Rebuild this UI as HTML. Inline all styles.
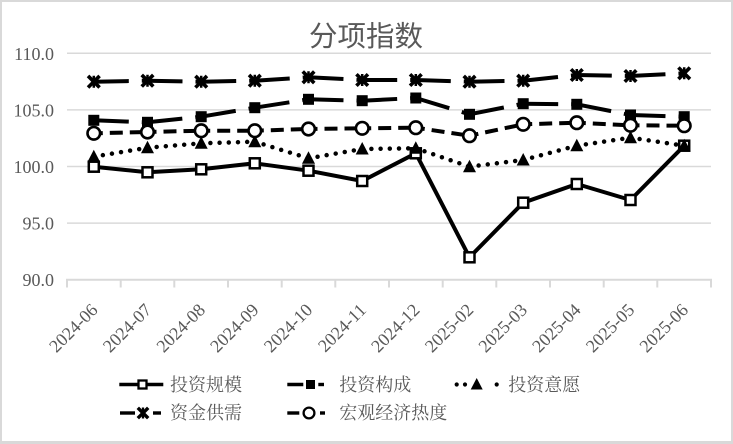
<!DOCTYPE html>
<html>
<head>
<meta charset="utf-8">
<style>
html,body{margin:0;padding:0;background:#fff;}
svg{display:block;}
.ax{font-family:"Liberation Serif",serif;font-size:18px;fill:#595959;}
.lg{font-family:"Liberation Serif","Noto Serif CJK SC",serif;font-size:18px;fill:#595959;}
.tt{font-family:"Liberation Sans","Noto Sans CJK SC",sans-serif;font-size:28.5px;fill:#595959;}
</style>
</head>
<body>
<svg width="733" height="444" viewBox="0 0 733 444" xmlns="http://www.w3.org/2000/svg">
<rect width="733" height="444" fill="#d9d9d9"/>
<rect x="2" y="2" width="729" height="439" fill="#ffffff"/>

<text class="tt" x="366" y="46" text-anchor="middle">分项指数</text>

<!-- gridlines -->
<g stroke="#d9d9d9" stroke-width="1.5">
<line x1="67" y1="53.3" x2="711" y2="53.3"/>
<line x1="67" y1="109.9" x2="711" y2="109.9"/>
<line x1="67" y1="166.5" x2="711" y2="166.5"/>
<line x1="67" y1="223.1" x2="711" y2="223.1"/>
</g>
<g stroke="#d9d9d9" stroke-width="2">
<line x1="66" y1="279.7" x2="712" y2="279.7"/>
<line x1="67" y1="279.7" x2="67" y2="287.5"/>
<line x1="120.7" y1="279.7" x2="120.7" y2="287.5"/>
<line x1="174.3" y1="279.7" x2="174.3" y2="287.5"/>
<line x1="228" y1="279.7" x2="228" y2="287.5"/>
<line x1="281.7" y1="279.7" x2="281.7" y2="287.5"/>
<line x1="335.3" y1="279.7" x2="335.3" y2="287.5"/>
<line x1="389" y1="279.7" x2="389" y2="287.5"/>
<line x1="442.7" y1="279.7" x2="442.7" y2="287.5"/>
<line x1="496.3" y1="279.7" x2="496.3" y2="287.5"/>
<line x1="550" y1="279.7" x2="550" y2="287.5"/>
<line x1="603.7" y1="279.7" x2="603.7" y2="287.5"/>
<line x1="657.3" y1="279.7" x2="657.3" y2="287.5"/>
<line x1="711" y1="279.7" x2="711" y2="287.5"/>
</g>

<!-- y labels -->
<g class="ax" text-anchor="end">
<text x="54" y="60">110.0</text>
<text x="54" y="116.5">105.0</text>
<text x="54" y="173">100.0</text>
<text x="54" y="229.6">95.0</text>
<text x="54" y="286.2">90.0</text>
</g>

<!-- x labels -->
<g class="ax" text-anchor="end">
<text transform="translate(98.8,311) rotate(-45)">2024-06</text>
<text transform="translate(152.5,311) rotate(-45)">2024-07</text>
<text transform="translate(206.2,311) rotate(-45)">2024-08</text>
<text transform="translate(259.8,311) rotate(-45)">2024-09</text>
<text transform="translate(313.5,311) rotate(-45)">2024-10</text>
<text transform="translate(367.2,311) rotate(-45)">2024-11</text>
<text transform="translate(420.8,311) rotate(-45)">2024-12</text>
<text transform="translate(474.5,311) rotate(-45)">2025-02</text>
<text transform="translate(528.2,311) rotate(-45)">2025-03</text>
<text transform="translate(581.8,311) rotate(-45)">2025-04</text>
<text transform="translate(635.5,311) rotate(-45)">2025-05</text>
<text transform="translate(689.2,311) rotate(-45)">2025-06</text>
</g>

<!-- Series 1: 投资规模 -->
<polyline fill="none" stroke="#000" stroke-width="4" stroke-linejoin="round"
 points="93.8,166.7 147.5,172.3 201.2,169.3 254.8,163.3 308.5,170.7 362.2,181 415.8,153.3 469.5,257.3 523.2,202.7 576.8,184 630.5,200 684.2,145.7"/>
<g fill="#fff" stroke="#000" stroke-width="2.5">
<rect x="88.8" y="161.7" width="10" height="10"/>
<rect x="142.5" y="167.3" width="10" height="10"/>
<rect x="196.2" y="164.3" width="10" height="10"/>
<rect x="249.8" y="158.3" width="10" height="10"/>
<rect x="303.5" y="165.7" width="10" height="10"/>
<rect x="357.2" y="176" width="10" height="10"/>
<rect x="410.8" y="148.3" width="10" height="10"/>
<rect x="464.5" y="252.3" width="10" height="10"/>
<rect x="518.2" y="197.7" width="10" height="10"/>
<rect x="571.8" y="179" width="10" height="10"/>
<rect x="625.5" y="195" width="10" height="10"/>
<rect x="679.2" y="140.7" width="10" height="10"/>
</g>

<!-- Series 2: 投资构成 -->
<path fill="none" stroke="#000" stroke-width="4" stroke-dasharray="35 13"
 d="M93.8 120.3L147.5 122.3M147.5 122.3L201.2 116.7M201.2 116.7L254.8 107.7M254.8 107.7L308.5 99.3M308.5 99.3L362.2 100.7M362.2 100.7L415.8 98M415.8 98L469.5 114.3M469.5 114.3L523.2 103.7M523.2 103.7L576.8 104.3M576.8 104.3L630.5 115M630.5 115L684.2 116.7"/>
<g fill="#000">
<rect x="88.3" y="114.8" width="11" height="11"/>
<rect x="142" y="116.8" width="11" height="11"/>
<rect x="195.7" y="111.2" width="11" height="11"/>
<rect x="249.3" y="102.2" width="11" height="11"/>
<rect x="303" y="93.8" width="11" height="11"/>
<rect x="356.7" y="95.2" width="11" height="11"/>
<rect x="410.3" y="92.5" width="11" height="11"/>
<rect x="464" y="108.8" width="11" height="11"/>
<rect x="517.7" y="98.2" width="11" height="11"/>
<rect x="571.3" y="98.8" width="11" height="11"/>
<rect x="625" y="109.5" width="11" height="11"/>
<rect x="678.7" y="111.2" width="11" height="11"/>
</g>

<!-- Series 3: 投资意愿 -->
<path fill="none" stroke="#000" stroke-width="4.5" stroke-linecap="round" stroke-dasharray="0 9.2"
 d="M93.8 156.7L147.5 147.7M147.5 147.7L201.2 143.3M201.2 143.3L254.8 141.7M254.8 141.7L308.5 158.3M308.5 158.3L362.2 149M362.2 149L415.8 148.3M415.8 148.3L469.5 166.7M469.5 166.7L523.2 160M523.2 160L576.8 145.7M576.8 145.7L630.5 137.7M630.5 137.7L684.2 145.7"/>
<g fill="#000">
<polygon points="93.8,149.7 100.3,162.2 87.3,162.2"/>
<polygon points="147.5,140.7 154,153.2 141,153.2"/>
<polygon points="201.2,136.3 207.7,148.8 194.7,148.8"/>
<polygon points="254.8,134.7 261.3,147.2 248.3,147.2"/>
<polygon points="308.5,151.3 315,163.8 302,163.8"/>
<polygon points="362.2,142 368.7,154.5 355.7,154.5"/>
<polygon points="415.8,141.3 422.3,153.8 409.3,153.8"/>
<polygon points="469.5,159.7 476,172.2 463,172.2"/>
<polygon points="523.2,153 529.7,165.5 516.7,165.5"/>
<polygon points="576.8,138.7 583.3,151.2 570.3,151.2"/>
<polygon points="630.5,130.7 637,143.2 624,143.2"/>
<polygon points="684.2,138.7 690.7,151.2 677.7,151.2"/>
</g>

<!-- Series 4: 资金供需 -->
<path fill="none" stroke="#000" stroke-width="4" stroke-dasharray="35 13"
 d="M93.8 81.7L147.5 80.7M147.5 80.7L201.2 81.7M201.2 81.7L254.8 80.7M254.8 80.7L308.5 77.3M308.5 77.3L362.2 80M362.2 80L415.8 80M415.8 80L469.5 81.7M469.5 81.7L523.2 80.7M523.2 80.7L576.8 75M576.8 75L630.5 76M630.5 76L684.2 73.3"/>
<g stroke="#000" stroke-width="3.6" stroke-linecap="square">
<path d="M89.3 77.2L98.3 86.2M98.3 77.2L89.3 86.2"/>
<path d="M143 76.2L152 85.2M152 76.2L143 85.2"/>
<path d="M196.7 77.2L205.7 86.2M205.7 77.2L196.7 86.2"/>
<path d="M250.3 76.2L259.3 85.2M259.3 76.2L250.3 85.2"/>
<path d="M304 72.8L313 81.8M313 72.8L304 81.8"/>
<path d="M357.7 75.5L366.7 84.5M366.7 75.5L357.7 84.5"/>
<path d="M411.3 75.5L420.3 84.5M420.3 75.5L411.3 84.5"/>
<path d="M465 77.2L474 86.2M474 77.2L465 86.2"/>
<path d="M518.7 76.2L527.7 85.2M527.7 76.2L518.7 85.2"/>
<path d="M572.3 70.5L581.3 79.5M581.3 70.5L572.3 79.5"/>
<path d="M626 71.5L635 80.5M635 71.5L626 80.5"/>
<path d="M679.7 68.8L688.7 77.8M688.7 68.8L679.7 77.8"/>
</g>
<g stroke="#000" stroke-width="2.5">
<path d="M93.8 75.7V87.7M147.5 74.7V86.7M201.2 75.7V87.7M254.8 74.7V86.7M308.5 71.3V83.3M362.2 74V86M415.8 74V86M469.5 75.7V87.7M523.2 74.7V86.7M576.8 69V81M630.5 70V82M684.2 67.3V79.3"/>
</g>

<!-- Series 5: 宏观经济热度 -->
<path fill="none" stroke="#000" stroke-width="4" stroke-dasharray="13 7" stroke-dashoffset="4"
 d="M93.8 133.3L147.5 132M147.5 132L201.2 130.7M201.2 130.7L254.8 130.7M254.8 130.7L308.5 129M308.5 129L362.2 128.3M362.2 128.3L415.8 127.7M415.8 127.7L469.5 135.7M469.5 135.7L523.2 124.3M523.2 124.3L576.8 122.7M576.8 122.7L630.5 125.3M630.5 125.3L684.2 125.7"/>
<g fill="#fff" stroke="#000" stroke-width="2.6">
<circle cx="93.8" cy="133.3" r="6.3"/>
<circle cx="147.5" cy="132" r="6.3"/>
<circle cx="201.2" cy="130.7" r="6.3"/>
<circle cx="254.8" cy="130.7" r="6.3"/>
<circle cx="308.5" cy="129" r="6.3"/>
<circle cx="362.2" cy="128.3" r="6.3"/>
<circle cx="415.8" cy="127.7" r="6.3"/>
<circle cx="469.5" cy="135.7" r="6.3"/>
<circle cx="523.2" cy="124.3" r="6.3"/>
<circle cx="576.8" cy="122.7" r="6.3"/>
<circle cx="630.5" cy="125.3" r="6.3"/>
<circle cx="684.2" cy="125.7" r="6.3"/>
</g>

<!-- Legend -->
<g stroke="#000" stroke-width="3.4" fill="none">
<line x1="119.3" y1="384.5" x2="163.3" y2="384.5"/>
<line x1="287.3" y1="384.5" x2="303.3" y2="384.5"/>
<line x1="318.3" y1="384.5" x2="324" y2="384.5"/>
<line x1="120" y1="413" x2="135" y2="413"/>
<line x1="153" y1="413" x2="161" y2="413"/>
<line x1="287.3" y1="413" x2="299.3" y2="413"/>
<line x1="320" y1="413" x2="325" y2="413"/>
</g>
<g fill="#000">
<circle cx="456.7" cy="384.5" r="2.1"/>
<circle cx="465" cy="384.5" r="2.1"/>
<circle cx="496.7" cy="384.5" r="2.1"/>
<polygon points="476.7,378 482.7,389.5 470.7,389.5"/>
<rect x="306" y="380" width="9" height="9"/>
</g>
<rect x="138.5" y="380.5" width="8" height="8" fill="#fff" stroke="#000" stroke-width="2.3"/>
<circle cx="309" cy="413" r="5.4" fill="#fff" stroke="#000" stroke-width="2.3"/>
<path d="M139 409L147 417M147 409L139 417" stroke="#000" stroke-width="3.4" stroke-linecap="square"/>
<path d="M143 407.5V418.5" stroke="#000" stroke-width="2.3"/>

<g class="lg">
<text x="170" y="391">投资规模</text>
<text x="339.3" y="391">投资构成</text>
<text x="508.3" y="391">投资意愿</text>
<text x="170" y="419">资金供需</text>
<text x="339.3" y="419">宏观经济热度</text>
</g>
</svg>
</body>
</html>
